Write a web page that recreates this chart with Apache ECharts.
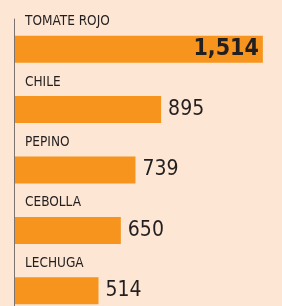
<!DOCTYPE html>
<html>
<head>
<meta charset="utf-8">
<script src="https://cdn.jsdelivr.net/npm/echarts@6/dist/echarts.min.js"></script>
<style>
  html, body { margin: 0; padding: 0; background: #fde6d3; }
  #chart { width: 282px; height: 306px; }
</style>
</head>
<body>
<div id="chart"></div>
<script>
var categories = ['TOMATE ROJO', 'CHILE', 'PEPINO', 'CEBOLLA', 'LECHUGA'];
var values = [1514, 895, 739, 650, 514];

var font = '"DejaVu Sans Condensed", "Liberation Sans Narrow", sans-serif';

var chart = echarts.init(document.getElementById('chart'));

var data = values.map(function(v, i) {
    var item = { value: v };
    if (i === 0) {
        // the biggest value sits inside its bar, in bold
        item.label = {
            position: 'insideRight',
            distance: 4,
            fontWeight: 'bold',
            fontSize: 23
        };
    }
    return item;
});

chart.setOption({
    backgroundColor: '#fde6d3',
    animation: false,
    grid: { left: 14, top: 19, width: 263, height: 302, outerBoundsMode: 'none', containLabel: false },
    xAxis: {
        type: 'value',
        min: 0,
        max: 1600,
        show: false,
        splitLine: { show: false }
    },
    yAxis: {
        type: 'category',
        data: categories,
        inverse: true,
        axisLine: { show: true, lineStyle: { color: '#7a7370', width: 1 } },
        axisTick: { show: false },
        axisLabel: {
            show: true,
            interval: 0,
            inside: true,
            margin: 11,
            align: 'left',
            verticalAlign: 'bottom',
            lineHeight: 55,
            color: '#231f20',
            fontFamily: font,
            fontSize: 13.5
        },
        z: 5
    },
    series: [{
        type: 'bar',
        data: data,
        barWidth: 27,
        itemStyle: { color: '#f7941d' },
        label: {
            show: true,
            position: 'right',
            distance: 7,
            color: '#231f20',
            fontFamily: font,
            fontSize: 21,
            formatter: function(p) {
                return p.value.toLocaleString('en-US');
            }
        }
    }]
});
</script>
</body>
</html>
